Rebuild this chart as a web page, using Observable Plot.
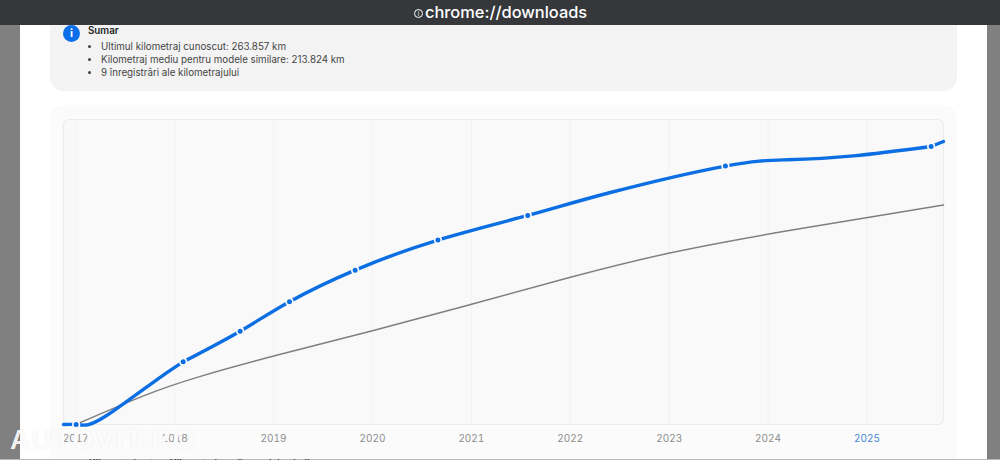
<!DOCTYPE html>
<html lang="ro">
<head>
<meta charset="utf-8">
<script src="https://cdn.jsdelivr.net/npm/d3@7"></script>
<script src="https://cdn.jsdelivr.net/npm/@observablehq/plot@0.6"></script>
<style>
html,body{margin:0;padding:0;background:#fff;}
body{position:relative;width:1000px;height:460px;overflow:hidden;font-family:Inter,"Noto Sans",sans-serif;color:#2f2f2f;}
.abs{position:absolute;}
#side-l{left:0;top:0;width:20px;height:460px;background:#808080;}
#side-r{left:987px;top:0;width:13px;height:460px;background:#808080;}
#bar{left:0;top:0;width:1000px;height:25px;background:#35373a;color:#fff;z-index:5;}
#bar .url{position:absolute;left:425px;top:0;line-height:25px;font-size:16.4px;font-weight:500;white-space:nowrap;}
#bar .ic{position:absolute;left:414px;top:8.5px;width:7px;height:7px;border:1px solid #fff;border-radius:50%;font-size:6px;line-height:7px;text-align:center;}
#card1{left:50px;top:10px;width:907px;height:81px;background:#f3f3f3;border-radius:14px;}
#card2{left:50px;top:105px;width:907px;height:370px;background:#fbfbfb;border-radius:14px;}
#info{left:63px;top:24.5px;width:17px;height:17px;border-radius:50%;background:#0a6fe8;color:#fff;font-size:11px;font-weight:700;line-height:17px;text-align:center;}
#sumar{left:88px;top:23.5px;font-size:9.8px;font-weight:600;line-height:13px;color:#222;}
#list{left:88px;top:39.5px;margin:0;padding:0 0 0 13px;font-size:9.75px;line-height:13.2px;color:#444;white-space:nowrap;}
#chart{left:0;top:0;z-index:2;}
.below{position:absolute;top:458px;font-size:9.75px;font-weight:500;color:#333;white-space:nowrap;z-index:2;}
#rule{left:0;top:459px;width:1000px;height:1px;background:#b9b9b9;z-index:1;}
#mark{left:10px;top:425px;font-family:"Liberation Sans",Arial,sans-serif;font-size:27.5px;font-weight:700;letter-spacing:2px;color:rgba(255,255,255,.92);text-shadow:0 0 1.5px rgba(0,0,0,.10);white-space:nowrap;z-index:4;line-height:30px;}
</style>
</head>
<body>
<div class="abs" id="side-l"></div>
<div class="abs" id="side-r"></div>
<div class="abs" id="card1"></div>
<div class="abs" id="card2"></div>
<div class="abs" id="info">i</div>
<div class="abs" id="sumar">Sumar</div>
<ul class="abs" id="list"></ul>
<div class="abs" id="chart"></div>
<div class="abs" id="rule"></div>
<div class="below" style="left:89px">Kilometraj auto</div>
<div class="below" style="left:170px">Kilometraj mediu modele similare</div>
<div class="abs" id="mark">AUTOVIT.RO</div>
<div class="abs" id="bar"><span class="ic">i</span><span class="url">chrome://downloads</span></div>
<script>
const summaryItems = [
  "Ultimul kilometraj cunoscut: 263.857 km",
  "Kilometraj mediu pentru modele similare: 213.824 km",
  "9 înregistrări ale kilometrajului"
];
const years = [2017, 2018, 2019, 2020, 2021, 2022, 2023, 2024, 2025];

// the nine readings
const recordYears = [2017.004, 2018.086, 2018.662, 2019.161, 2019.825, 2020.662, 2021.570, 2023.569, 2025.649];
const recordKm    = [0, 59500, 88600, 116500, 146500, 175100, 198400, 245300, 263857];

// blue curve, in three runs that meet at readings
const carStartYears = [2016.876, 2017.004, 2017.128, 2017.300, 2017.503, 2017.705, 2017.907, 2018.086];
const carStartKm    = [0, 0, -100, 7800, 21100, 34700, 48300, 59500];
const carMidYears   = [2018.086, 2018.662, 2019.161, 2019.825, 2020.662, 2021.570, 2022.406, 2023.569, 2024.197, 2024.864, 2025.649];
const carMidKm      = [59500, 88600, 116500, 146500, 175100, 198400, 220200, 245300, 251300, 255000, 263857];
const carEndYears   = [2025.649, 2025.774];
const carEndKm      = [263857, 268600];

// grey curve read along its length
const avgYears = [2017.0, 2017.685, 2018.261, 2019.070, 2020.0, 2021.001, 2022.002, 2022.993, 2024.197, 2025.774];
const avgKm    = [0, 27200, 45700, 66600, 88900, 114100, 139700, 162500, 183800, 208300];

document.getElementById("list").innerHTML = summaryItems.map(t => `<li>${t}</li>`).join("");

const zip = (xs, ys) => xs.map((x, i) => ({x, y: ys[i]}));
const blue = "#0b6fe3";
const blueRun = (xs, ys) => Plot.line(zip(xs, ys), {x: "x", y: "y", stroke: blue, strokeWidth: 3.4, curve: "natural"});

const plot = Plot.plot({
  width: 1000,
  height: 460,
  marginLeft: 63,
  marginRight: 57,
  marginTop: 119,
  marginBottom: 36,
  style: {background: "transparent", fontFamily: "Inter, sans-serif", fontSize: "10px"},
  x: {domain: [2016.876, 2025.774], label: null},
  y: {domain: [0, 289500], label: null, axis: null},
  marks: [
    Plot.frame({fill: "#f9f9f9", stroke: "#ececec", strokeWidth: 1.2, rx: 6}),
    Plot.ruleX(years, {stroke: "#f2f2f2", strokeWidth: 1}),
    Plot.line(zip(avgYears, avgKm), {x: "x", y: "y", stroke: "#7f7f7f", strokeWidth: 1.5, curve: "natural"}),
    blueRun(carStartYears, carStartKm),
    blueRun(carMidYears, carMidKm),
    blueRun(carEndYears, carEndKm),
    Plot.dot(zip(recordYears, recordKm), {x: "x", y: "y", r: 3.3, fill: blue, stroke: "#fafafa", strokeWidth: 1.6}),
    Plot.axisX(years.slice(0, -1), {tickSize: 0, tickPadding: 10, tickFormat: d => String(d), color: "#8c8c8c", label: null}),
    Plot.axisX(years.slice(-1), {tickSize: 0, tickPadding: 10, tickFormat: d => String(d), color: "#3f86d8", label: null})
  ]
});
document.getElementById("chart").appendChild(plot);
</script>
</body>
</html>
